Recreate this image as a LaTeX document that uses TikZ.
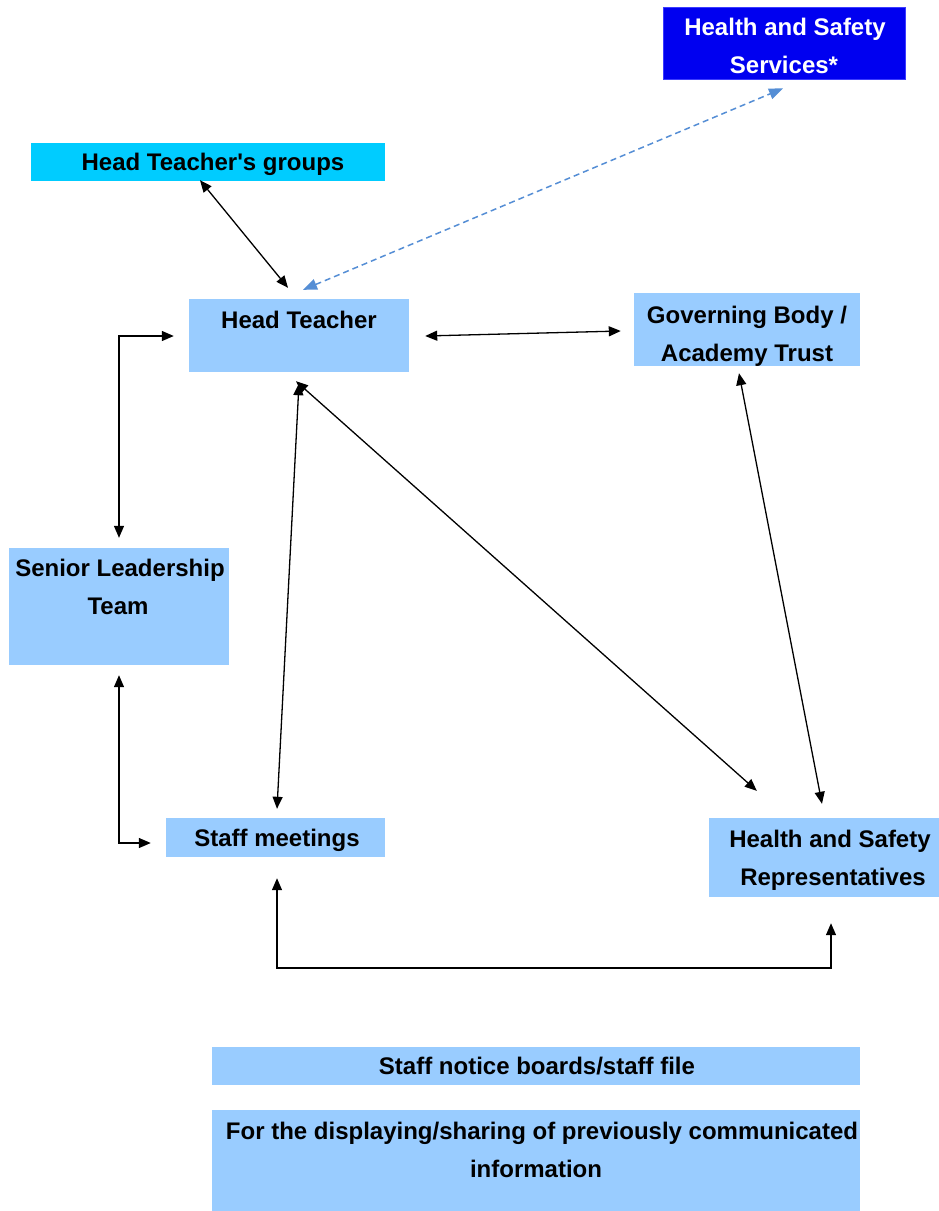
\documentclass[tikz,border=0pt]{standalone}
\usepackage{fontspec}
\newfontfamily\lbfont{Liberation Sans}
\usetikzlibrary{arrows.meta}
\definecolor{lightbox}{RGB}{153,204,255}
\definecolor{cyanbox}{RGB}{0,204,255}
\definecolor{bluebox}{RGB}{0,0,240}
\definecolor{blueedge}{RGB}{60,60,255}
\definecolor{dashblue}{RGB}{85,142,213}
\tikzset{
  box/.style={rectangle, inner sep=0pt, fill=lightbox, draw=none},
  lbl/.style={inner sep=0pt, text height=17pt, text depth=0pt, anchor=center,
    font=\lbfont\fontsize{24}{28}\selectfont\bfseries},
  arr/.style={line width=1.3pt, {Triangle[length=12pt,width=10pt]}-{Triangle[length=12pt,width=10pt]}},
  dasharr/.style={draw=dashblue, line width=1.5pt, dash pattern=on 6pt off 4pt,
    {Triangle[length=14pt,width=11pt]}-{Triangle[length=14pt,width=11pt]}},
}
\begin{document}
\begin{tikzpicture}[x=1pt,y=-1pt]
\useasboundingbox (0,0) rectangle (939,1211);
% boxes
\node[box, fill=bluebox, draw=blueedge, line width=0.8pt, minimum width=242pt, minimum height=72pt] (hss) at (784,43) {};
\node[box, fill=cyanbox, minimum width=354pt, minimum height=38pt] (htg) at (208,162) {};
\node[box, minimum width=220pt, minimum height=73pt] (ht) at (299,335.5) {};
\node[box, minimum width=226pt, minimum height=73pt] (gb) at (747,329.5) {};
\node[box, minimum width=220pt, minimum height=117pt] (slt) at (119,606.5) {};
\node[box, minimum width=219pt, minimum height=39pt] (sm) at (275.5,837.5) {};
\node[box, minimum width=230pt, minimum height=79pt] (hsr) at (824,857.5) {};
\node[box, minimum width=648pt, minimum height=38pt] (nb) at (536,1066) {};
\node[box, minimum width=648pt, minimum height=101pt] (fd) at (536,1160.5) {};
% labels
\node[lbl, text=white] (hss1) at (785,27) {Health and Safety};
\node[lbl, text=white] (hss2) at (784,65) {Services*};
\node[lbl] (htg1) at (213,162) {Head Teacher's groups};
\node[lbl] (ht1) at (299,320) {Head Teacher};
\node[lbl] (gb1) at (747,315) {Governing Body /};
\node[lbl] (gb2) at (747,353) {Academy Trust};
\node[lbl] (slt1) at (120,568) {Senior Leadership};
\node[lbl] (slt2) at (118,606) {Team};
\node[lbl] (sm1) at (277,838) {Staff meetings};
\node[lbl] (hsr1) at (830,839) {Health and Safety};
\node[lbl] (hsr2) at (833,877) {Representatives};
\node[lbl] (nb1) at (537,1066) {Staff notice boards/staff file};
\node[lbl] (fd1) at (542,1131) {For the displaying/sharing of previously communicated};
\node[lbl] (fd2) at (536,1169) {information};
% connectors
\draw[arr] ([shift={(-8,-1)}]htg.south) -- ([shift={(-11,-11)}]ht.north);
\draw[dasharr] ([shift={(4,-9)}]ht.north) -- ([shift={(-1,9)}]hss.south);
\draw[arr] ([shift={(16,0.5)}]ht.east) -- ([shift={(-13,1.5)}]gb.west);
\draw[arr] ([shift={(0,-10)}]slt.north) |- ([shift={(-15,0.5)}]ht.west);
\draw[arr] ([shift={(0,11)}]ht.south) -- ([shift={(1.5,-9)}]sm.north);
\draw[arr] ([shift={(-3,9)}]ht.south) -- ([shift={(48,-27)}]hsr.north west);
\draw[arr] ([shift={(-8,7)}]gb.south) -- ([shift={(-2,-14)}]hsr.north);
\draw[arr] ([shift={(0,10)}]slt.south) |- ([shift={(-15,5.5)}]sm.west);
\coordinate (bottomrun) at (0,968);
\draw[arr] ([shift={(1.5,21)}]sm.south) -- ([xshift=1.5pt]sm.south |- bottomrun) -| ([shift={(7,26)}]hsr.south);
\end{tikzpicture}
\end{document}
